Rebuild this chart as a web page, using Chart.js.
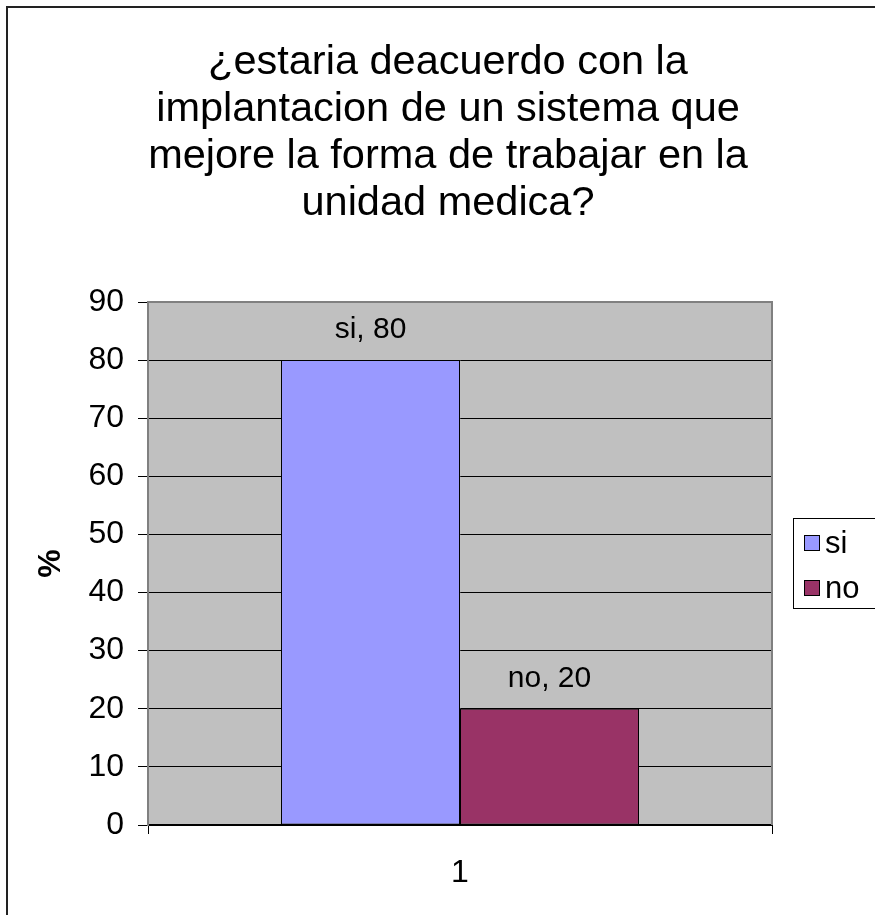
<!DOCTYPE html>
<html>
<head>
<meta charset="utf-8">
<script src="https://cdn.jsdelivr.net/npm/chart.js@4.4.1/dist/chart.umd.min.js"></script>
<style>
  html, body { margin: 0; padding: 0; background: #fff; }
  canvas { display: block; }
</style>
</head>
<body>
<canvas id="chart" width="875" height="915"></canvas>
<script>
const FONT = "'Liberation Sans', Arial, sans-serif";

const titleLines = [
  '¿estaria deacuerdo con la',
  'implantacion de un sistema que',
  'mejore la forma de trabajar en la',
  'unidad medica?'
];
const categories = ['1'];
const seriesNames = ['si', 'no'];
const seriesValues = [[80], [20]];
const seriesColors = ['#9999FF', '#993366'];
const yTicks = { min: 0, max: 90, step: 10 };
const yTitle = '%';

// white page, outer frame and grey plot background
const backdrop = {
  id: 'backdrop',
  beforeDraw(chart) {
    const ctx = chart.ctx;
    const a = chart.chartArea;
    ctx.save();
    ctx.fillStyle = '#fff';
    ctx.fillRect(0, 0, chart.width, chart.height);
    ctx.strokeStyle = '#222';
    ctx.lineWidth = 2;
    ctx.strokeRect(7, 7, chart.width + 20, chart.height + 20);
    ctx.fillStyle = '#C0C0C0';
    ctx.fillRect(a.left, a.top, a.right - a.left, a.bottom - a.top);
    ctx.restore();
  },
  beforeDatasetsDraw(chart) {
    const ctx = chart.ctx;
    const a = chart.chartArea;
    ctx.save();
    ctx.strokeStyle = '#808080';
    ctx.lineWidth = 2;
    ctx.beginPath();
    ctx.moveTo(a.left, a.top);
    ctx.lineTo(a.right, a.top);
    ctx.lineTo(a.right, a.bottom);
    ctx.stroke();
    ctx.restore();
  }
};

// "serie, valor" above each bar
const barLabels = {
  id: 'barLabels',
  afterDatasetsDraw(chart) {
    const ctx = chart.ctx;
    ctx.save();
    ctx.font = '30px ' + FONT;
    ctx.fillStyle = '#000';
    ctx.textAlign = 'center';
    ctx.textBaseline = 'middle';
    chart.data.datasets.forEach((ds, i) => {
      chart.getDatasetMeta(i).data.forEach((bar, j) => {
        ctx.fillText(ds.label + ', ' + ds.data[j], bar.x, bar.y - 30);
      });
    });
    ctx.restore();
  }
};

// title and boxed legend on the right
const decorations = {
  id: 'decorations',
  afterDraw(chart) {
    const ctx = chart.ctx;
    ctx.save();
    ctx.fillStyle = '#000';
    ctx.textAlign = 'center';
    ctx.textBaseline = 'middle';
    ctx.font = '41.5px ' + FONT;
    titleLines.forEach((line, i) => ctx.fillText(line, 448, 63 + i * 47));

    const lx = 793, ly = 518;
    ctx.strokeStyle = '#000';
    ctx.lineWidth = 1;
    ctx.strokeRect(lx + 0.5, ly + 0.5, 100, 90);
    ctx.font = '31px ' + FONT;
    ctx.textAlign = 'left';
    chart.data.datasets.forEach((ds, i) => {
      const y = ly + 25 + i * 45;
      ctx.fillStyle = ds.backgroundColor;
      ctx.fillRect(lx + 11, y - 8, 16, 16);
      ctx.strokeRect(lx + 11.5, y - 7.5, 15, 15);
      ctx.fillStyle = '#000';
      ctx.fillText(ds.label, lx + 32, y + 1);
    });
    ctx.restore();
  }
};

new Chart(document.getElementById('chart'), {
  type: 'bar',
  data: {
    labels: categories,
    datasets: seriesNames.map((name, i) => ({
      label: name,
      data: seriesValues[i],
      backgroundColor: seriesColors[i],
      borderColor: '#000',
      borderWidth: 1,
      borderSkipped: false,
      barPercentage: 1,
      categoryPercentage: 179 / 312
    }))
  },
  options: {
    responsive: false,
    devicePixelRatio: 1,
    animation: false,
    layout: { padding: { top: 302, right: 103, left: 0, bottom: 0 } },
    plugins: {
      legend: { display: false },
      title: { display: false },
      tooltip: { enabled: false }
    },
    scales: {
      x: {
        afterFit(s) { s.height = 90; },
        grid: { drawOnChartArea: false, color: '#000', tickLength: 9 },
        border: { color: '#000', width: 2 },
        ticks: { color: '#000', font: { family: FONT, size: 32 }, padding: 20 }
      },
      y: {
        min: yTicks.min,
        max: yTicks.max,
        afterFit(s) { s.width = 148; },
        grid: { color: '#000', lineWidth: 1, tickLength: 10 },
        border: { color: '#808080', width: 2 },
        ticks: { stepSize: yTicks.step, color: '#000', font: { family: FONT, size: 32 }, padding: 14 },
        title: {
          display: true,
          text: yTitle,
          color: '#000',
          font: { family: FONT, size: 32, weight: 'bold' },
          padding: { top: 32 }
        }
      }
    }
  },
  plugins: [backdrop, barLabels, decorations]
});
</script>
</body>
</html>
